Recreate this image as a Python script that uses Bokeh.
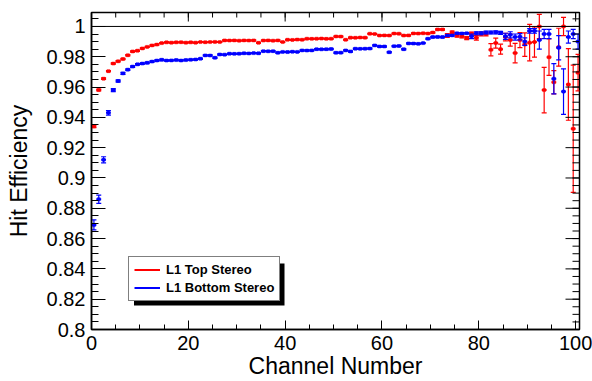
import math
from bokeh.plotting import figure
from bokeh.models import (Range1d, FixedTicker, Span, Legend, LegendItem,
                          BoxAnnotation, ColumnDataSource)
from bokeh.embed import file_html
from bokeh.resources import INLINE

# ---------------- data ----------------
channels = list(range(101))

top_eff = [
    0.934, 0.958, 0.9655, 0.9705, 0.9755, 0.977, 0.9785, 0.981, 0.9835, 0.984,
    0.9855, 0.9865, 0.9875, 0.988, 0.989, 0.9895, 0.9893, 0.9895, 0.9896, 0.9893,
    0.9895, 0.9893, 0.9897, 0.9896, 0.9897, 0.9898, 0.9897, 0.9908, 0.9907, 0.9908,
    0.9906, 0.9908, 0.9907, 0.9908, 0.9892, 0.9907, 0.9908, 0.9906, 0.9908, 0.9897,
    0.9912, 0.9911, 0.9913, 0.9912, 0.9919, 0.9918, 0.9919, 0.992, 0.9918, 0.9919,
    0.9934, 0.9933, 0.9912, 0.9926, 0.9925, 0.9927, 0.9926, 0.9952, 0.995, 0.994,
    0.9941, 0.994, 0.9953, 0.9952, 0.994, 0.9941, 0.9954, 0.9953, 0.9955, 0.9953,
    0.996, 0.998, 0.998, 0.994, 0.9962, 0.994, 0.9935, 0.9923, 0.9952, 0.9925,
    0.995, 0.995, 0.9846, 0.989, 0.985, 0.993, 0.991, 0.9824, 0.991, 0.988,
    0.9893, 0.9897, 1.0, 0.958, 0.9797, 0.9632, 0.9863, 1.0, 0.9617, 0.9325,
    0.9695,
]
top_err = (
    [0.0008, 0.0006, 0.0005] + [0.0004] * 12 + [0.0003] * 55 +
    [0.0004, 0.0004, 0.0004, 0.0012, 0.0008, 0.001, 0.001, 0.001, 0.001, 0.0015,
     0.0012, 0.0012, 0.004, 0.0033, 0.0033, 0.0025, 0.004, 0.0064, 0.005, 0.0077,
     0.012, 0.01, 0.008, 0.015, 0.012, 0.0077, 0.0125, 0.006, 0.0236, 0.042,
     0.012]
)

bottom_eff = [
    0.869, 0.886, 0.912, 0.943, 0.958, 0.964, 0.969, 0.9715, 0.9735, 0.975,
    0.9755, 0.976, 0.9768, 0.9775, 0.978, 0.9775, 0.9776, 0.9778, 0.9775, 0.9778,
    0.978, 0.9782, 0.9787, 0.9809, 0.9808, 0.9793, 0.9815, 0.9814, 0.982, 0.9819,
    0.982, 0.9823, 0.9822, 0.9824, 0.9823, 0.9837, 0.9836, 0.9837, 0.9826, 0.9832,
    0.9831, 0.9833, 0.9832, 0.9842, 0.9841, 0.9842, 0.985, 0.9849, 0.985, 0.9851,
    0.9826, 0.9827, 0.9842, 0.9835, 0.9853, 0.9852, 0.9853, 0.9854, 0.9875, 0.9868,
    0.9868, 0.983, 0.987, 0.9871, 0.985, 0.9888, 0.9887, 0.9885, 0.989, 0.9919,
    0.993, 0.9931, 0.993, 0.994, 0.9941, 0.9955, 0.9954, 0.9955, 0.9935, 0.9955,
    0.9955, 0.996, 0.996, 0.9961, 0.9958, 0.9935, 0.9945, 0.993, 0.9932, 0.990,
    0.997, 0.997, 0.991, 0.995, 0.995, 0.9655, 0.986, 0.957, 0.993, 0.995,
    0.990,
]
bottom_err = (
    [0.0033, 0.0027, 0.002, 0.0015, 0.001, 0.0008, 0.0007] + [0.0005] * 8 +
    [0.0004] * 55 + [0.0005] * 8 +
    [0.0015, 0.001, 0.001, 0.001, 0.001, 0.001, 0.001, 0.002, 0.002, 0.002,
     0.002, 0.0025, 0.0015, 0.0015, 0.006, 0.003, 0.003, 0.01, 0.008, 0.015,
     0.004, 0.003, 0.005]
)

series_labels = ["L1 Top Stereo", "L1 Bottom Stereo"]
series_colors = ["#ff0000", "#0000ff"]
x_title = "Channel Number"
y_title = "Hit Efficiency"

x_ticks = [0, 20, 40, 60, 80, 100]
x_tick_labels = ["0", "20", "40", "60", "80", "100"]
x_minor = list(range(0, 101, 5))
y_ticks = [0.8, 0.82, 0.84, 0.86, 0.88, 0.9, 0.92, 0.94, 0.96, 0.98, 1.0]
y_tick_labels = ["0.8", "0.82", "0.84", "0.86", "0.88", "0.9", "0.92", "0.94",
                 "0.96", "0.98", "1"]
y_minor = [round(0.8 + 0.005 * i, 4) for i in range(42)]

# ---------------- layout constants ----------------
W, H = 592, 381
B_LEFT, B_RIGHT, B_TOP, B_BOTTOM = 91, 13, 12, 52
X_MIN, X_MAX = 0.0, 100.8
Y_MIN, Y_MAX = 0.8, 1.0092
FONT = "Liberation Sans"
X_TICK_LEN, X_MINOR_LEN = 9, 5
Y_TICK_LEN, Y_MINOR_LEN = 14, 7

p = figure(width=W, height=H, output_backend="svg", toolbar_location=None,
           x_range=Range1d(X_MIN, X_MAX), y_range=Range1d(Y_MIN, Y_MAX),
           min_border_left=B_LEFT, min_border_right=B_RIGHT,
           min_border_top=B_TOP, min_border_bottom=B_BOTTOM,
           background_fill_color="white", border_fill_color="white")
p.xgrid.visible = False
p.ygrid.visible = False
p.outline_line_color = "black"
p.outline_line_width = 1.5

frame_w = W - B_LEFT - B_RIGHT
frame_h = H - B_TOP - B_BOTTOM
def dx(px):
    return X_MIN + (px - B_LEFT) / frame_w * (X_MAX - X_MIN)
def dy(py):
    return Y_MIN + (H - B_BOTTOM - py) / frame_h * (Y_MAX - Y_MIN)

# ---------------- data marks ----------------
legend_items = []
for eff, err, label, color in zip([top_eff, bottom_eff], [top_err, bottom_err],
                                  series_labels, series_colors):
    xc = [c + 0.5 for c in channels]
    src = ColumnDataSource(dict(
        x=xc, y=eff,
        xl=[c for c in channels], xr=[c + 1.0 for c in channels],
        yl=[e - d for e, d in zip(eff, err)], yu=[e + d for e, d in zip(eff, err)],
    ))
    r_x = p.segment(x0="xl", x1="xr", y0="y", y1="y", source=src,
                    line_color=color, line_width=2)
    p.segment(x0="x", x1="x", y0="yl", y1="yu", source=src,
              line_color=color, line_width=1.2)
    p.scatter(x="x", y="yl", source=src, marker="dash", size=5,
              line_color=color, line_width=1.2)
    p.scatter(x="x", y="yu", source=src, marker="dash", size=5,
              line_color=color, line_width=1.2)
    p.scatter(x="x", y="y", source=src, marker="square", size=3,
              line_color=color, fill_color=color, line_width=0.5)
    legend_items.append(LegendItem(label=label, renderers=[r_x]))

p.add_layout(Span(location=1.0, dimension="width", line_color="black", line_width=1))

# ---------------- axes ----------------
def style_axis(ax, tick_in, minor_in):
    ax.axis_line_color = "black"
    ax.axis_line_width = 1.5
    ax.major_tick_line_color = "black"
    ax.minor_tick_line_color = "black"
    ax.major_tick_in = tick_in
    ax.major_tick_out = 0
    ax.minor_tick_in = minor_in
    ax.minor_tick_out = 0
    ax.major_label_text_font = FONT
    ax.major_label_text_font_size = "20px"
    ax.major_label_text_color = "black"
    ax.axis_label_text_font = FONT
    ax.axis_label_text_font_size = "23px"
    ax.axis_label_text_font_style = "normal"
    ax.axis_label_text_color = "black"

xa = p.xaxis[0]
xa.ticker = FixedTicker(ticks=x_ticks, minor_ticks=x_minor)
xa.major_label_overrides = dict(zip(x_ticks, x_tick_labels))
xa.axis_label = x_title
style_axis(xa, X_TICK_LEN, X_MINOR_LEN)
xa.major_label_standoff = 6
xa.axis_label_standoff = 0

ya = p.yaxis[0]
ya.ticker = FixedTicker(ticks=y_ticks, minor_ticks=y_minor)
ya.major_label_overrides = dict(zip(y_ticks, y_tick_labels))
ya.axis_label = y_title
style_axis(ya, Y_TICK_LEN, Y_MINOR_LEN)
ya.major_label_standoff = 6
ya.axis_label_standoff = 12

# mirrored ticks on the top and right frame edges (no labels)
p.ray(x=x_ticks, y=[Y_MAX] * len(x_ticks), length=X_TICK_LEN, length_units="screen",
      angle=-math.pi / 2, line_color="black", line_width=1)
p.ray(x=x_minor, y=[Y_MAX] * len(x_minor), length=X_MINOR_LEN, length_units="screen",
      angle=-math.pi / 2, line_color="black", line_width=1)
p.ray(x=[X_MAX] * len(y_ticks), y=y_ticks, length=Y_TICK_LEN, length_units="screen",
      angle=math.pi, line_color="black", line_width=1)
p.ray(x=[X_MAX] * len(y_minor), y=y_minor, length=Y_MINOR_LEN, length_units="screen",
      angle=math.pi, line_color="black", line_width=1)

# ---------------- legend with shadow ----------------
shadow = BoxAnnotation(left=dx(133.5), right=dx(284), top=dy(263), bottom=dy(305),
                       fill_color="black", fill_alpha=1.0, line_color=None,
                       level="underlay")
p.add_layout(shadow)

legend = Legend(items=legend_items, location=(37, 28), margin=0,
                label_text_font=FONT, label_text_font_style="bold",
                label_text_font_size="13px", label_text_color="black",
                border_line_color="black", border_line_width=1.5,
                background_fill_color="white", background_fill_alpha=1.0,
                padding=5, spacing=3, label_height=15, glyph_height=15,
                glyph_width=26, label_standoff=6)
p.add_layout(legend)

open("out.html", "w").write(file_html(p, INLINE))
